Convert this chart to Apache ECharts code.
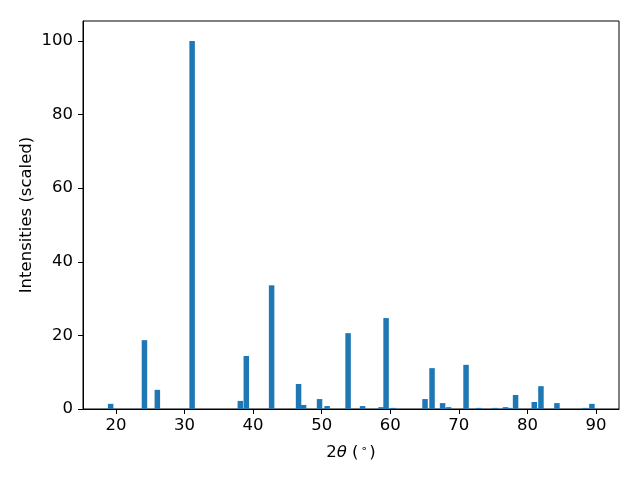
<!DOCTYPE html>
<html>
<head>
<meta charset="utf-8">
<script src="https://cdn.jsdelivr.net/npm/echarts@6/dist/echarts.min.js"></script>
<style>html,body{margin:0;padding:0;background:#fff}#c{width:640px;height:480px}</style>
</head>
<body>
<div id="c"></div>
<script>
const twoTheta = [19.23, 24.16, 26.04, 31.11, 38.14, 39.01, 42.70, 46.63, 47.36, 49.69, 50.79, 53.85, 55.96, 58.66, 59.39, 60.41, 65.07, 66.09, 67.63, 68.5, 71.05, 72.9, 75.3, 76.8, 77.3, 78.27, 81.0, 81.97, 84.3, 88.4, 89.4];
const intensities = [1.4, 18.7, 5.2, 100, 2.2, 14.4, 33.6, 6.8, 1.1, 2.7, 0.8, 20.6, 0.8, 0.5, 24.7, 0.3, 2.7, 11.1, 1.6, 0.5, 12.0, 0.3, 0.3, 0.5, 0.3, 3.8, 1.9, 6.2, 1.6, 0.3, 1.4];
const xTicks = [20, 30, 40, 50, 60, 70, 80, 90];
const yTicks = [0, 20, 40, 60, 80, 100];

const font = 'DejaVu Sans';
const fs = 16.5;
const chart = echarts.init(document.getElementById('c'), null, {renderer: 'canvas'});
chart.setOption({
  animation: false,
  backgroundColor: '#fff',
  grid: {left: 83, right: 21, top: 21, bottom: 71, show: true, borderColor: '#000', borderWidth: 1, containLabel: false},
  xAxis: {
    type: 'value', min: 15.2, max: 93.35,
    axisLine: {show: true, onZero: false, lineStyle: {color: '#000', width: 1}},
    axisTick: {show: true, length: 5, customValues: xTicks, lineStyle: {color: '#000'}},
    axisLabel: {customValues: xTicks, color: '#000', fontSize: fs, fontFamily: font, margin: 8},
    splitLine: {show: false},
    name: '{n|2}{t|θ}{n| (}{s|∘}{n|)}',
    nameLocation: 'middle', nameGap: 35,
    nameTextStyle: {
      fontFamily: font, fontSize: fs, color: '#000',
      rich: {
        n: {fontFamily: font, fontSize: fs, color: '#000'},
        t: {fontFamily: font, fontSize: fs, fontStyle: 'italic', color: '#000'},
        s: {fontFamily: font, fontSize: 11, color: '#000', verticalAlign: 'top', padding: [0, 2, 7, 2]}
      }
    }
  },
  yAxis: {
    type: 'value', min: 0, max: 105.4,
    axisLine: {show: true, lineStyle: {color: '#000', width: 1}},
    axisTick: {show: true, length: 5, customValues: yTicks, lineStyle: {color: '#000'}},
    axisLabel: {customValues: yTicks, color: '#000', fontSize: fs, fontFamily: font, margin: 10},
    splitLine: {show: false},
    name: 'Intensities (scaled)',
    nameLocation: 'middle', nameGap: 48, nameMoveOverlap: false,
    nameTextStyle: {fontFamily: font, fontSize: fs, color: '#000'}
  },
  series: [{
    type: 'bar',
    data: twoTheta.map((x, i) => [x, intensities[i]]),
    barWidth: 5.5,
    itemStyle: {color: '#1f77b4'}
  }]
});
</script>
</body>
</html>
